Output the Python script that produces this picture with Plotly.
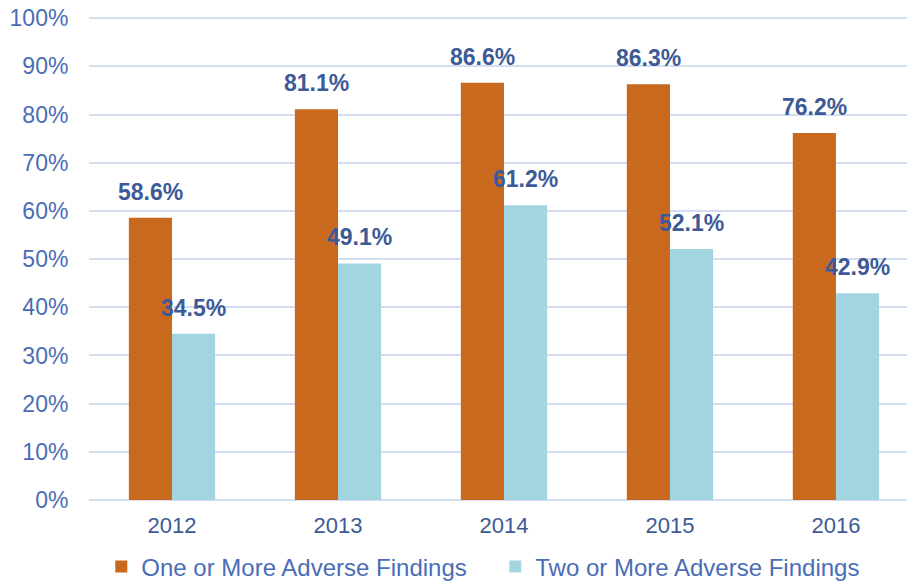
import plotly.graph_objects as go

years = ["2012", "2013", "2014", "2015", "2016"]
one_or_more = [58.6, 81.1, 86.6, 86.3, 76.2]
two_or_more = [34.5, 49.1, 61.2, 52.1, 42.9]
series_names = ["One or More Adverse Findings", "Two or More Adverse Findings"]
y_ticks = [0, 10, 20, 30, 40, 50, 60, 70, 80, 90, 100]
y_tick_text = [f"{v}%" for v in y_ticks]

ORANGE = "#C8691D"
CYAN = "#A3D5E0"
LABEL = "#3D5A96"
TICK = "#4A6DB6"
FONT = "Liberation Sans"

fig = go.Figure()
fig.add_trace(go.Bar(x=years, y=one_or_more, name=series_names[0],
                     marker=dict(color=ORANGE, line=dict(width=0))))
fig.add_trace(go.Bar(x=years, y=two_or_more, name=series_names[1],
                     marker=dict(color=CYAN, line=dict(width=0))))

for i, yr in enumerate(years):
    for vals, shift in ((one_or_more, -21.5), (two_or_more, 21.5)):
        fig.add_annotation(x=i, y=vals[i], xref="x", yref="y",
                           text=f"<b>{vals[i]:.1f}%</b>",
                           showarrow=False, xshift=shift, yshift=11,
                           yanchor="bottom", xanchor="center",
                           font=dict(family=FONT, size=23, color=LABEL))

# y range slightly above 100 so that the 100% gridline/label is not clipped.
fig.update_layout(
    width=907, height=581,
    margin=dict(l=89, r=0, t=10.77, b=81, autoexpand=False),
    paper_bgcolor="white", plot_bgcolor="white",
    barmode="group", bargap=0.48, bargroupgap=0,
    font=dict(family=FONT, color=TICK),
    showlegend=True,
    legend=dict(orientation="h", x=0.015, xanchor="left", y=-0.137, yanchor="middle",
                font=dict(size=24, color=TICK), traceorder="normal",
                entrywidth=349, entrywidthmode="pixels"),
    xaxis=dict(type="category", range=[-0.5, 4.428], showgrid=False, showline=False,
               zeroline=False, ticks="outside", ticklen=6, tickcolor="rgba(0,0,0,0)",
               tickfont=dict(size=22, color=LABEL)),
    yaxis=dict(range=[0, 101.5], tickmode="array", tickvals=y_ticks, ticktext=y_tick_text,
               showgrid=True, gridcolor="#D3DEF1", gridwidth=1.5,
               zeroline=True, zerolinecolor="#D3DEF1", zerolinewidth=1.5,
               showline=False, ticks="outside", ticklen=15, tickcolor="rgba(0,0,0,0)",
               tickfont=dict(size=23, color=TICK)),
)

fig.write_html("out.html", config={"displayModeBar": False},
               post_script="document.body.style.margin='0';document.body.style.overflow='hidden';")
